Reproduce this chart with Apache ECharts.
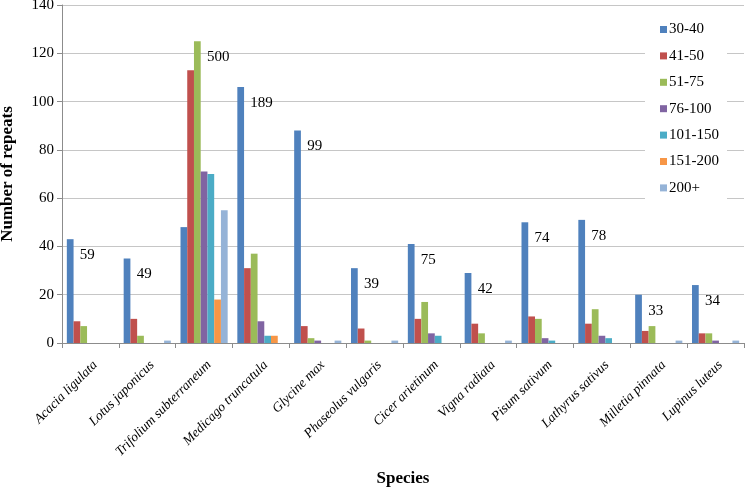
<!DOCTYPE html>
<html>
<head>
<meta charset="utf-8">
<script src="https://cdn.jsdelivr.net/npm/echarts@6/dist/echarts.min.js"></script>
<style>html,body{margin:0;padding:0;background:#fff;}#c{width:745px;height:487px;}</style>
</head>
<body>
<div id="c"></div>
<script>
const categories = ['Acacia ligulata','Lotus japonicus','Trifolium subterraneum','Medicago truncatula','Glycine max','Phaseolus vulgaris','Cicer arietinum','Vigna radiata','Pisum sativum','Lathyrus sativus','Milletia pinnata','Lupinus luteus'];
const seriesNames = ['30-40','41-50','51-75','76-100','101-150','151-200','200+'];
const v30_40   = [43, 35, 48, 106, 88, 31, 41, 29, 50, 51, 20, 24];
const v41_50   = [9, 10, 113, 31, 7, 6, 10, 8, 11, 8, 5, 4];
const v51_75   = [7, 3, 125, 37, 2, 1, 17, 4, 10, 14, 7, 4];
const v76_100  = [0, 0, 71, 9, 1, 0, 4, 0, 2, 3, 0, 1];
const v101_150 = [0, 0, 70, 3, 0, 0, 3, 0, 1, 2, 0, 0];
const v151_200 = [0, 0, 18, 3, 0, 0, 0, 0, 0, 0, 0, 0];
const v200plus = [0, 1, 55, 0, 1, 1, 0, 1, 0, 0, 1, 1];
const totals   = [59, 49, 500, 189, 99, 39, 75, 42, 74, 78, 33, 34];
const yTicks = [0, 20, 40, 60, 80, 100, 120, 140];

const allValues = [v30_40, v41_50, v51_75, v76_100, v101_150, v151_200, v200plus];
const colors = ['#4F81BD','#C0504D','#9BBB59','#8064A2','#4BACC6','#F79646','#95B3D7'];
const FONT = 'Liberation Serif';

// the total label sits beside the tallest bar of each species
const tallest = categories.map((c, i) => {
  let best = 0;
  allValues.forEach((arr, s) => { if (arr[i] > allValues[best][i]) best = s; });
  return best;
});

const series = allValues.map((arr, s) => ({
  name: seriesNames[s],
  type: 'bar',
  barGap: '0%',
  barCategoryGap: '17%',
  itemStyle: { color: colors[s] },
  data: arr.map((v, i) => {
    if (tallest[i] !== s) return v;
    return {
      value: v,
      label: {
        show: true,
        formatter: String(totals[i]),
        position: [13, 16],
        align: 'left',
        verticalAlign: 'middle',
        color: '#000',
        fontFamily: FONT,
        fontSize: 15
      }
    };
  })
}));

const chart = echarts.init(document.getElementById('c'), null, { renderer: 'canvas' });
chart.setOption({
  animation: false,
  backgroundColor: '#fff',
  textStyle: { fontFamily: FONT },
  grid: { left: 62, right: 1, top: 5, bottom: 144, containLabel: false, outerBoundsMode: 'none' },
  legend: {
    orient: 'vertical',
    left: 645,
    top: 13,
    width: 77,
    padding: [9, 8, 9, 15],
    itemGap: 11.4,
    itemWidth: 7,
    itemHeight: 7,
    icon: 'rect',
    backgroundColor: '#fff',
    textStyle: { fontFamily: FONT, fontSize: 15, color: '#000', padding: [0, 0, 0, -3] },
    data: seriesNames
  },
  xAxis: {
    type: 'category',
    data: categories,
    name: 'Species',
    nameLocation: 'middle',
    nameGap: 127,
    nameTextStyle: { fontFamily: FONT, fontSize: 17, fontWeight: 'bold', color: '#000' },
    axisLine: { lineStyle: { color: '#8c8c8c' } },
    axisTick: { show: true, interval: 0, length: 5, lineStyle: { color: '#8c8c8c' } },
    axisLabel: {
      interval: 0,
      rotate: 45,
      margin: 15,
      verticalAlign: 'top',
      fontFamily: FONT,
      fontSize: 13.5,
      fontStyle: 'italic',
      color: '#000'
    }
  },
  yAxis: {
    type: 'value',
    min: yTicks[0],
    max: yTicks[yTicks.length - 1],
    interval: 20,
    name: 'Number of repeats',
    nameLocation: 'middle',
    nameGap: 46,
    nameTextStyle: { fontFamily: FONT, fontSize: 17, fontWeight: 'bold', color: '#000' },
    axisLine: { show: true, lineStyle: { color: '#8c8c8c' } },
    axisTick: { show: true, length: 5, lineStyle: { color: '#8c8c8c' } },
    axisLabel: { fontFamily: FONT, fontSize: 15, color: '#000', margin: 8 },
    splitLine: { lineStyle: { color: '#c6c6c6' } }
  },
  series: series
});
</script>
</body>
</html>
